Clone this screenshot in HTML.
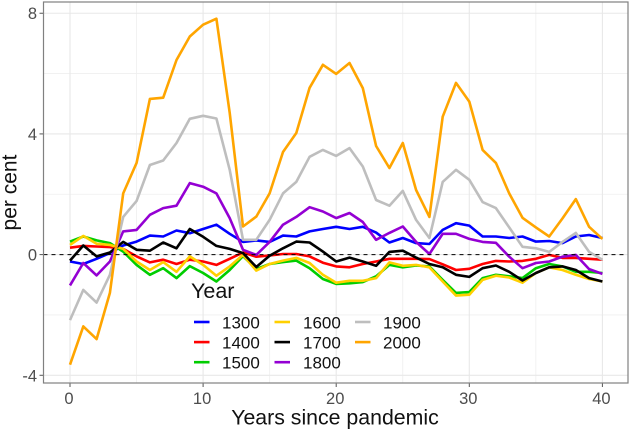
<!DOCTYPE html>
<html>
<head>
<meta charset="utf-8">
<title>Excess per cent by years since pandemic</title>
<style>
html,body{margin:0;padding:0;background:#fff;width:629px;height:430px;overflow:hidden}
svg{display:block;font-family:"Liberation Sans",sans-serif;filter:blur(0.35px)}
</style>
</head>
<body>
<svg id="chart" width="629" height="430" viewBox="0 0 629 430" xmlns="http://www.w3.org/2000/svg">
<text x="0" y="0" transform="translate(16.5,192.5) rotate(-90)" font-size="21" fill="#111" text-anchor="middle">per cent</text>
<text x="335" y="424.5" font-size="21.3" fill="#111" text-anchor="middle">Years since pandemic</text>
<text x="191" y="298" font-size="21.5" fill="#111">Year</text>
</svg>
<script>
const years = [];
for (let i = 0; i <= 40; i++) years.push(i);
const xTicks = [0, 10, 20, 30, 40];
const xMinorTicks = [5, 15, 25, 35];
const yTicks = [8, 4, 0, -4];
const yMinorTicks = [6, 2, -2];
const seriesNames = ['1300', '1400', '1500', '1600', '1700', '1800', '1900', '2000'];
const seriesColors = ['#0000ff', '#ff0000', '#00cd00', '#ffd000', '#000000', '#9400d3', '#bebebe', '#ffa500'];
const s1300 = [-0.23,-0.31,-0.14,0.05,0.3,0.43,0.63,0.6,0.8,0.71,0.85,0.99,0.69,0.42,0.47,0.42,0.63,0.6,0.77,0.85,0.92,0.85,0.92,0.73,0.4,0.55,0.38,0.35,0.82,1.04,0.96,0.6,0.6,0.55,0.6,0.43,0.45,0.38,0.6,0.65,0.55];
const s1400 = [0.23,0.29,0.27,0.25,0.19,-0.06,-0.26,-0.17,-0.31,-0.17,-0.23,-0.34,-0.14,0.07,-0.07,-0.03,0.02,0.02,-0.06,-0.27,-0.39,-0.42,-0.31,-0.23,-0.14,-0.14,-0.14,-0.15,-0.32,-0.51,-0.47,-0.31,-0.21,-0.23,-0.21,-0.14,-0.01,-0.11,-0.11,-0.14,-0.17];
const s1500 = [0.43,0.6,0.47,0.38,0.1,-0.34,-0.67,-0.45,-0.78,-0.38,-0.61,-0.89,-0.51,-0.05,-0.48,-0.31,-0.25,-0.2,-0.45,-0.81,-0.97,-0.95,-0.91,-0.72,-0.34,-0.42,-0.36,-0.39,-0.84,-1.27,-1.24,-0.78,-0.67,-0.72,-0.78,-0.45,-0.31,-0.39,-0.57,-0.57,-0.61];
const s1600 = [0.32,0.62,0.36,0.32,0.19,-0.23,-0.51,-0.25,-0.57,-0.06,-0.34,-0.7,-0.39,-0.01,-0.53,-0.31,-0.2,-0.11,-0.28,-0.67,-0.93,-0.87,-0.87,-0.78,-0.26,-0.37,-0.34,-0.42,-0.89,-1.36,-1.33,-0.84,-0.7,-0.76,-0.93,-0.61,-0.42,-0.51,-0.67,-0.81,-0.89];
const s1700 = [-0.2,0.3,-0.06,0.07,0.42,0.16,0.13,0.4,0.21,0.85,0.59,0.29,0.19,0.05,-0.41,-0.04,0.21,0.43,0.4,0.1,-0.23,-0.1,-0.23,-0.37,0.09,0.13,-0.1,-0.31,-0.42,-0.67,-0.74,-0.45,-0.36,-0.57,-0.86,-0.61,-0.42,-0.39,-0.51,-0.78,-0.89];
const s1800 = [-1.02,-0.28,-0.69,-0.23,0.77,0.82,1.32,1.54,1.62,2.37,2.25,2.03,1.21,0.16,-0.01,0.42,0.99,1.25,1.57,1.43,1.21,1.38,1.08,0.49,0.72,0.93,0.42,0.02,0.69,0.69,0.52,0.42,0.39,-0.07,-0.45,-0.28,-0.23,-0.07,-0.01,-0.48,-0.64];
const s1900 = [-2.17,-1.17,-1.59,-0.67,1.25,1.78,2.97,3.12,3.7,4.5,4.6,4.51,2.81,0.49,0.49,1.15,2.03,2.41,3.24,3.47,3.27,3.53,2.92,1.81,1.62,2.11,1.15,0.55,2.41,2.81,2.48,1.74,1.54,0.9,0.26,0.21,0.09,0.42,0.72,0.09,-0.17];
const s2000 = [-3.65,-2.38,-2.8,-1.27,2.03,3.04,5.16,5.2,6.45,7.23,7.62,7.82,4.7,0.93,1.26,2.03,3.4,4.03,5.53,6.29,5.99,6.35,5.52,3.6,2.87,3.7,2.14,1.25,4.57,5.69,5.07,3.47,3.04,2.03,1.22,0.9,0.6,1.2,1.84,0.92,0.52];
const seriesValues = [s1300, s1400, s1500, s1600, s1700, s1800, s1900, s2000];

const NS = 'http://www.w3.org/2000/svg';
const svg = document.getElementById('chart');
const panel = {left: 43.5, right: 628, top: 2, bottom: 383};
function xScale(v) { return 70 + v * 13.31; }
function yScale(v) { return 254.6 - v * 30.17; }
function make(tag, attrs, parent) {
  const el = document.createElementNS(NS, tag);
  for (const k in attrs) el.setAttribute(k, attrs[k]);
  (parent || svg).appendChild(el);
  return el;
}
const firstText = svg.firstElementChild;
const back = document.createElementNS(NS, 'g');


svg.insertBefore(back, firstText);

yMinorTicks.forEach(function (t) {
  const l = make('line', {x1: panel.left, x2: panel.right, y1: yScale(t), y2: yScale(t), stroke: '#efefef', 'stroke-width': 0.8}, back);
  
  
});
xMinorTicks.forEach(function (t) {
  const l = make('line', {x1: xScale(t), x2: xScale(t), y1: panel.top, y2: panel.bottom, stroke: '#efefef', 'stroke-width': 0.8}, back);
  
  
});
yTicks.forEach(function (t) {
  const y = yScale(t);
  const l = make('line', {x1: panel.left, x2: panel.right, y1: y, y2: y, stroke: '#e8e8e8', 'stroke-width': 1.1}, back);
  
  
  const tk = make('line', {x1: panel.left - 4, x2: panel.left, y1: y, y2: y, stroke: '#555', 'stroke-width': 1}, back);
  
  
  const tx = make('text', {x: panel.left - 6.5, y: y + 6, 'font-size': 16.5, fill: '#4d4d4d', 'text-anchor': 'end'}, back);
  tx.textContent = String(t);
  
  
});
xTicks.forEach(function (t) {
  const x = xScale(t);
  const l = make('line', {x1: x, x2: x, y1: panel.top, y2: panel.bottom, stroke: '#e8e8e8', 'stroke-width': 1.1}, back);
  
  
  const tk = make('line', {x1: x, x2: x, y1: panel.bottom, y2: panel.bottom + 4, stroke: '#555', 'stroke-width': 1}, back);
  
  
  const tx = make('text', {x: x - 1, y: 404, 'font-size': 16.5, fill: '#4d4d4d', 'text-anchor': 'middle'}, back);
  tx.textContent = String(t);
  
  
});

seriesValues.forEach(function (vals, i) {
  const pts = vals.map(function (v, j) { return xScale(years[j]).toFixed(1) + ',' + yScale(v).toFixed(1); }).join(' ');
  const line = make('polyline', {points: pts, fill: 'none', stroke: seriesColors[i], 'stroke-width': 2.6, 'stroke-linejoin': 'round', 'stroke-linecap': 'butt'}, back);
  
  
});

const zero = make('line', {x1: panel.left, x2: panel.right, y1: yScale(0), y2: yScale(0), stroke: '#000', 'stroke-width': 1, 'stroke-dasharray': '4 4'}, back);



const frame = make('rect', {x: panel.left, y: panel.top, width: panel.right - panel.left, height: panel.bottom - panel.top, fill: 'none', stroke: '#808080', 'stroke-width': 1.2}, back);



seriesNames.forEach(function (name, i) {
  const col = i < 3 ? 0 : (i < 6 ? 1 : 2);
  const row = i < 3 ? i : (i < 6 ? i - 3 : i - 6);
  const keyX = [194, 274.5, 355][col];
  const labelX = [222, 303, 383][col];
  const y = 322 + row * 20.1;
  const k = make('line', {x1: keyX, x2: keyX + 15.5, y1: y, y2: y, stroke: seriesColors[i], 'stroke-width': 2.6});
  
  
  const t = make('text', {x: labelX, y: y + 6.3, 'font-size': 17, fill: '#111'});
  t.textContent = name;
  
  
});
</script>
</body>
</html>
